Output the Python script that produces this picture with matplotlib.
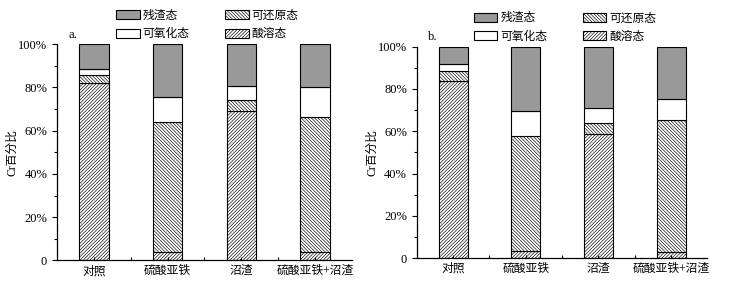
import numpy as np
import matplotlib
matplotlib.use("Agg")
import matplotlib.pyplot as plt
from matplotlib.ticker import MultipleLocator, FixedLocator

plt.rcParams['font.family'] = ['Liberation Serif', 'Noto Sans CJK SC']
plt.rcParams['hatch.linewidth'] = 0.45
plt.rcParams['hatch.color'] = '#4a4a4a'

# treatments
groups = ["对照", "硫酸亚铁", "沼渣", "硫酸亚铁+沼渣"]

# panel a (% of total Cr)
a_acid = [82.1, 3.8, 68.9, 3.8]
a_red = [3.4, 60.1, 5.2, 62.4]
a_oxi = [2.9, 11.7, 6.6, 14.0]
a_res = [11.6, 24.4, 19.3, 19.8]

# panel b
b_acid = [84.0, 3.3, 58.5, 2.8]
b_red = [4.4, 54.4, 5.5, 62.4]
b_oxi = [3.6, 11.7, 7.2, 10.1]
b_res = [8.0, 30.6, 28.8, 24.7]

names = ["残渣态", "可氧化态", "可还原态", "酸溶态"]

fig = plt.figure(figsize=(7.3, 2.9), dpi=100)
axa = fig.add_axes([0.078, 0.102, 0.404, 0.746])
axb = fig.add_axes([0.571, 0.110, 0.398, 0.729])


def draw(ax, acid, red, oxi, res, tag):
    x = np.arange(1, len(groups) + 1)
    kw = dict(width=0.4, edgecolor='black', linewidth=0.8)
    acid = np.array(acid)
    red = np.array(red)
    oxi = np.array(oxi)
    res = np.array(res)
    h_acid = ax.bar(x, acid, color='white', hatch='//////////', **kw)
    h_red = ax.bar(x, red, bottom=acid, color='white', hatch='\\' * 10, **kw)
    h_oxi = ax.bar(x, oxi, bottom=acid + red, color='white', **kw)
    h_res = ax.bar(x, res, bottom=acid + red + oxi, color='#999999', **kw)

    ax.set_xlim(0.5, 4.5)
    ax.set_ylim(0, 100)
    ax.set_xticks(x)
    ax.set_xticklabels(groups, fontsize=8.5)
    ax.xaxis.set_minor_locator(FixedLocator([1.5, 2.5, 3.5]))
    ax.tick_params(axis='x', which='both', direction='in', length=2.5, width=0.8)
    ax.set_yticks([0, 20, 40, 60, 80, 100])
    ax.set_yticklabels(["0", "20%", "40%", "60%", "80%", "100%"], fontsize=9)
    ax.yaxis.set_minor_locator(MultipleLocator(10))
    ax.tick_params(axis='y', which='major', direction='out', length=3.5, width=0.8)
    ax.tick_params(axis='y', which='minor', direction='out', length=2, width=0.8)
    for s in ['top', 'right']:
        ax.spines[s].set_visible(False)
    for s in ['left', 'bottom']:
        ax.spines[s].set_linewidth(0.9)
    ax.set_ylabel("Cr百分比", fontsize=8.5, labelpad=0)
    ax.text(0.04, 1.03, tag, transform=ax.transAxes, fontsize=9)

    ax.legend([h_res, h_oxi, h_red, h_acid], names, ncol=2, frameon=False,
              fontsize=8.5, loc='lower center', bbox_to_anchor=(0.51, 0.985),
              handlelength=2.0, handleheight=0.8, columnspacing=3.0,
              labelspacing=0.55, handletextpad=0.25, borderaxespad=0.2)


draw(axa, a_acid, a_red, a_oxi, a_res, "a.")
draw(axb, b_acid, b_red, b_oxi, b_res, "b.")

fig.savefig("out.png", dpi=100)
